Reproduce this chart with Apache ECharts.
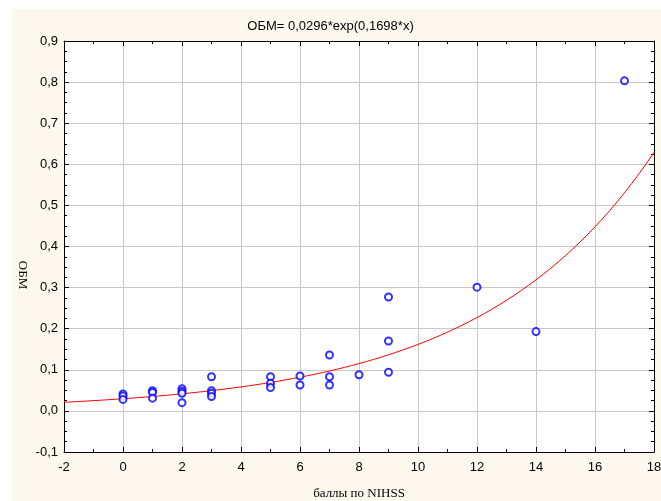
<!DOCTYPE html>
<html>
<head>
<meta charset="utf-8">
<script src="https://cdn.jsdelivr.net/npm/echarts@6/dist/echarts.min.js"></script>
<style>
  html, body { margin: 0; padding: 0; background: #fff; }
  #chart { width: 661px; height: 501px; }
</style>
</head>
<body>
<div id="chart"></div>
<script>
// points
const nihss = [0, 0, 0, 1, 1, 1, 2, 2, 2, 2, 3, 3, 3, 3, 5, 5, 5, 6, 6, 7, 7, 7, 8, 9, 9, 9, 12, 14, 17];
const obm = [0.041, 0.036, 0.028, 0.049, 0.045, 0.031, 0.054, 0.048, 0.043, 0.020,
  0.083, 0.049, 0.043, 0.035, 0.083, 0.067, 0.057, 0.085, 0.063, 0.136, 0.083, 0.063,
  0.088, 0.277, 0.170, 0.094, 0.301, 0.193, 0.803];

// fitted curve from the title: ОБМ = a*exp(b*x)
const fitA = 0.0296;
const fitB = 0.1698;
const curveX = [];
for (let x = -2; x <= 18.001; x += 0.25) curveX.push(+x.toFixed(2));

const xMin = -2, xMax = 18, xStep = 2;
const yMin = -0.1, yMax = 0.9, yStep = 0.1;

const points = nihss.map((x, i) => [x, obm[i]]);
const curve = curveX.map(x => [x, fitA * Math.exp(fitB * x)]);

const font = 'Liberation Sans, Arial, sans-serif';
const serif = 'Liberation Serif, Times New Roman, serif';
const comma = v => v.toFixed(1).replace('.', ',');

const axisLine = { show: true, onZero: false, lineStyle: { color: '#000', width: 1 } };
const tick = { inside: true, length: 5, lineStyle: { color: '#000' } };

const myChart = echarts.init(document.getElementById('chart'));
myChart.setOption({
  animation: false,
  backgroundColor: '#fff',
  graphic: [
    { type: 'rect', z: -10, shape: { x: 12, y: 9, width: 649, height: 492 }, style: { fill: '#fcf8ee' } },
    { type: 'rect', z: -9, shape: { x: 64, y: 41, width: 590, height: 411 }, style: { fill: '#fff' } },
    {
      type: 'text', x: 22, y: 275, rotation: -Math.PI / 2,
      style: { text: 'ОБМ', font: '13px ' + serif, fill: '#000', align: 'center', verticalAlign: 'middle' }
    }
  ],
  title: {
    text: 'ОБМ= 0,0296*exp(0,1698*x)',
    left: 'center',
    top: 15,
    textStyle: { fontFamily: font, fontSize: 13, fontWeight: 'normal', color: '#000' }
  },
  grid: { left: 64, right: 7, top: 41, bottom: 49, containLabel: false, outerBoundsMode: 'none' },
  xAxis: [
    {
      type: 'value', min: xMin, max: xMax, interval: xStep,
      name: 'баллы по NIHSS', nameLocation: 'middle', nameGap: 35,
      nameTextStyle: { fontFamily: serif, fontSize: 13, color: '#000' },
      axisLine: axisLine,
      axisTick: tick,
      minorTick: { show: true, splitNumber: 2, length: 3, lineStyle: { color: '#000' } },
      axisLabel: { fontFamily: font, fontSize: 13, color: '#000', margin: 9 },
      splitLine: { show: true, lineStyle: { color: '#c8c8c8', width: 1 } }
    },
    {
      type: 'value', position: 'top', min: xMin, max: xMax, interval: xStep,
      axisLine: axisLine,
      axisTick: tick,
      minorTick: { show: true, splitNumber: 2, length: 3, lineStyle: { color: '#000' } },
      axisLabel: { show: false },
      splitLine: { show: false }
    }
  ],
  yAxis: [
    {
      type: 'value', min: yMin, max: yMax, interval: yStep,
      axisLine: axisLine,
      axisTick: tick,
      minorTick: { show: true, splitNumber: 4, length: 3, lineStyle: { color: '#000' } },
      axisLabel: { fontFamily: font, fontSize: 13, color: '#000', margin: 6, formatter: comma },
      splitLine: { show: true, lineStyle: { color: '#c8c8c8', width: 1 } }
    },
    {
      type: 'value', position: 'right', min: yMin, max: yMax, interval: yStep,
      axisLine: axisLine,
      axisTick: tick,
      minorTick: { show: true, splitNumber: 4, length: 3, lineStyle: { color: '#000' } },
      axisLabel: { show: false },
      splitLine: { show: false }
    }
  ],
  series: [
    {
      name: 'fit',
      type: 'line',
      data: curve,
      showSymbol: false,
      smooth: false,
      lineStyle: { color: '#ff0000', width: 1 },
      z: 2
    },
    {
      name: 'ОБМ',
      type: 'scatter',
      data: points,
      symbol: 'emptyCircle',
      symbolSize: 7,
      itemStyle: { color: '#0000ff', borderColor: '#0000ff', borderWidth: 1 },
      z: 3
    }
  ]
});
</script>
</body>
</html>
